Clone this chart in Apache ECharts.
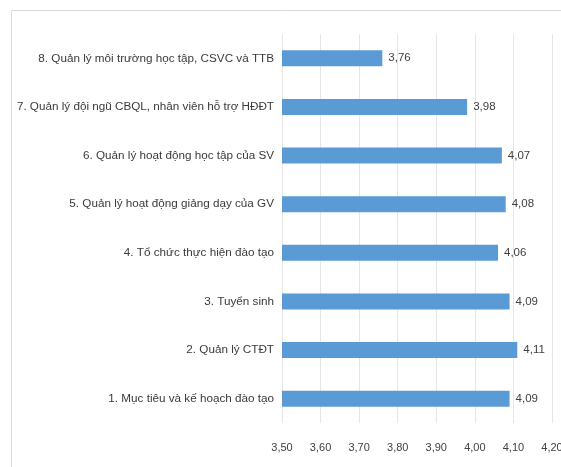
<!DOCTYPE html>
<html><head><meta charset="utf-8">
<script src="https://cdn.jsdelivr.net/npm/echarts@6/dist/echarts.min.js"></script>
<style>html,body{margin:0;padding:0;background:#fff}#c{width:561px;height:467px}</style>
</head><body><div id="c"></div>
<script>
const categories = [
  "1. Mục tiêu và kế hoạch đào tạo",
  "2. Quản lý CTĐT",
  "3. Tuyển sinh",
  "4. Tổ chức thực hiện đào tạo",
  "5. Quản lý hoạt động giảng dạy của GV",
  "6. Quản lý hoạt động học tập của SV",
  "7. Quản lý đội ngũ CBQL, nhân viên hỗ trợ HĐĐT",
  "8. Quản lý môi trường học tập, CSVC và TTB"
];
const values = [4.09, 4.11, 4.09, 4.06, 4.08, 4.07, 3.98, 3.76];
const axisMin = 3.5, axisMax = 4.2, axisStep = 0.1;

const fontFam = '"Liberation Sans", Arial, sans-serif';
const fmt = v => Number(v).toFixed(2).replace('.', ',');
const chart = echarts.init(document.getElementById('c'));
chart.setOption({
  animation: false,
  backgroundColor: '#fff',
  graphic: [{
    type: 'polyline', shape: { points: [[11.5, 467], [11.5, 10.5], [561, 10.5]] },
    style: { stroke: '#d9d9d9', lineWidth: 1, fill: null }, silent: true
  }],
  grid: { left: 282, right: 9, top: 34, bottom: 44, containLabel: false, outerBoundsMode: 'none' },
  xAxis: {
    type: 'value', min: axisMin, max: axisMax, interval: axisStep,
    axisLine: { show: false }, axisTick: { show: false },
    splitLine: { show: true, lineStyle: { color: '#e6e6e6', width: 1 } },
    axisLabel: { formatter: fmt, color: '#404040', fontSize: 11, fontFamily: fontFam, margin: 19 }
  },
  yAxis: {
    type: 'category', data: categories,
    axisLine: { show: false }, axisTick: { show: false },
    axisLabel: { color: '#3a3a3a', fontSize: 11.7, fontFamily: fontFam, margin: 8 }
  },
  series: [{
    type: 'bar', data: values, barWidth: 16,
    itemStyle: { color: '#5b9bd5' },
    label: { show: true, position: 'right', distance: 6, formatter: p => fmt(p.value),
      color: '#404040', fontSize: 11.5, fontFamily: fontFam }
  }]
});
</script></body></html>
